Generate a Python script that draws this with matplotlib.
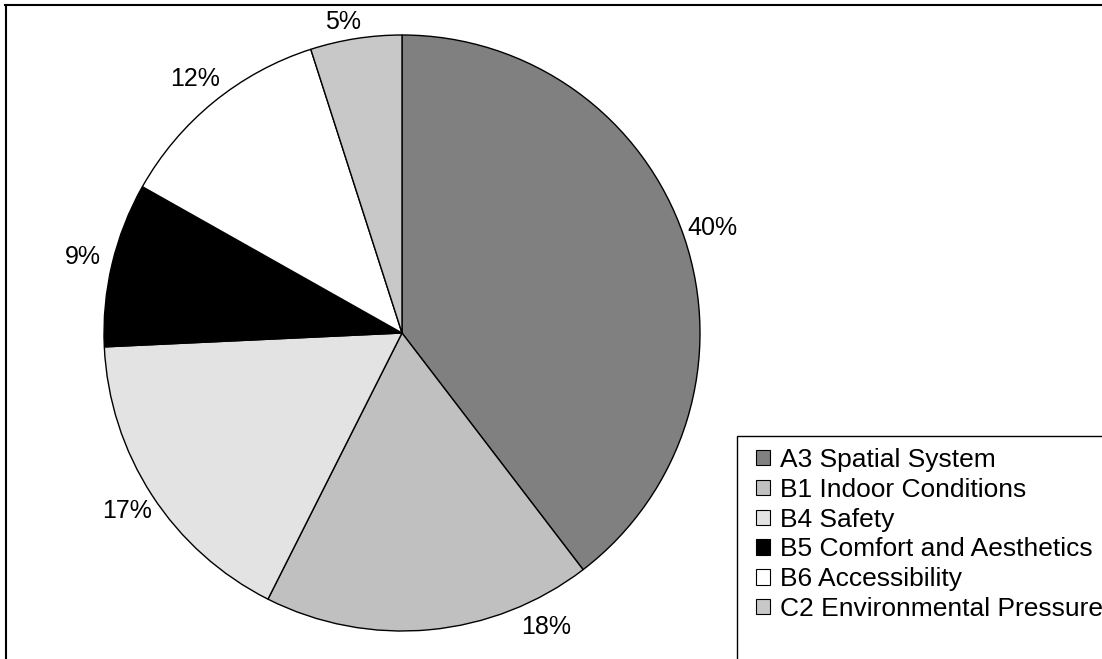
import matplotlib
matplotlib.use("Agg")
import matplotlib.pyplot as plt
from matplotlib.patches import Rectangle
from matplotlib.lines import Line2D

categories = ["A3 Spatial System", "B1 Indoor Conditions", "B4 Safety",
              "B5 Comfort and Aesthetics", "B6 Accessibility",
              "C2 Environmental Pressure"]
shares = [40, 18, 17, 9, 12, 5]
colors = ["#808080", "#c0c0c0", "#e3e3e3", "#000000", "#ffffff", "#c8c8c8"]

plt.rcParams["font.family"] = ["Liberation Sans", "DejaVu Sans"]

W, H = 1102, 659
fig = plt.figure(figsize=(W / 100, H / 100), dpi=100)

# pie axes: centre (402, 333) px, radius ~298 px
cx, cy, r = 402, 333, 298
ax = fig.add_axes([(cx - r) / W, 1 - (cy + r) / H, 2 * r / W, 2 * r / H])
wedges, _, pcts = ax.pie(
    shares, colors=colors, startangle=90, counterclock=False,
    autopct=lambda p: f"{p:.0f}%", pctdistance=1.10,
    wedgeprops=dict(edgecolor="black", linewidth=1.0),
    textprops=dict(fontsize=18, color="black"))
ax.set_xlim(-1, 1)
ax.set_ylim(-1, 1)
ax.set_aspect("equal")
ax.axis("off")

# labels that would run off the canvas are nudged along the rim
pcts[1].set_position((0.483, -0.987))
pcts[-1].set_position((-0.198, 1.044))
for t in pcts:
    t.set_clip_on(False)

# chart-area frame (top and left edges visible)
fig.add_artist(Line2D([5 / W, 1], [1 - 4.5 / H, 1 - 4.5 / H],
                      transform=fig.transFigure, color="black", lw=1.5))
fig.add_artist(Line2D([5.5 / W, 5.5 / W], [0, 1 - 4.5 / H],
                      transform=fig.transFigure, color="black", lw=1.5))

# legend box running off the right/bottom edges
fig.add_artist(Rectangle((737 / W, -0.05), 0.5, (659 - 436) / H + 0.05,
                         transform=fig.transFigure, facecolor="white",
                         edgecolor="black", lw=1.0))
handles = [Rectangle((0, 0), 1, 1, facecolor=c, edgecolor="black", lw=0.8)
           for c in colors]
fig.legend(handles, categories, loc="upper left",
           bbox_to_anchor=(756 / W, 1 - 448 / H), frameon=False,
           fontsize=19, handlelength=0.52, handleheight=0.52,
           handletextpad=0.4, labelspacing=0.22, borderaxespad=0,
           borderpad=0)

fig.savefig("out.png", dpi=100)
